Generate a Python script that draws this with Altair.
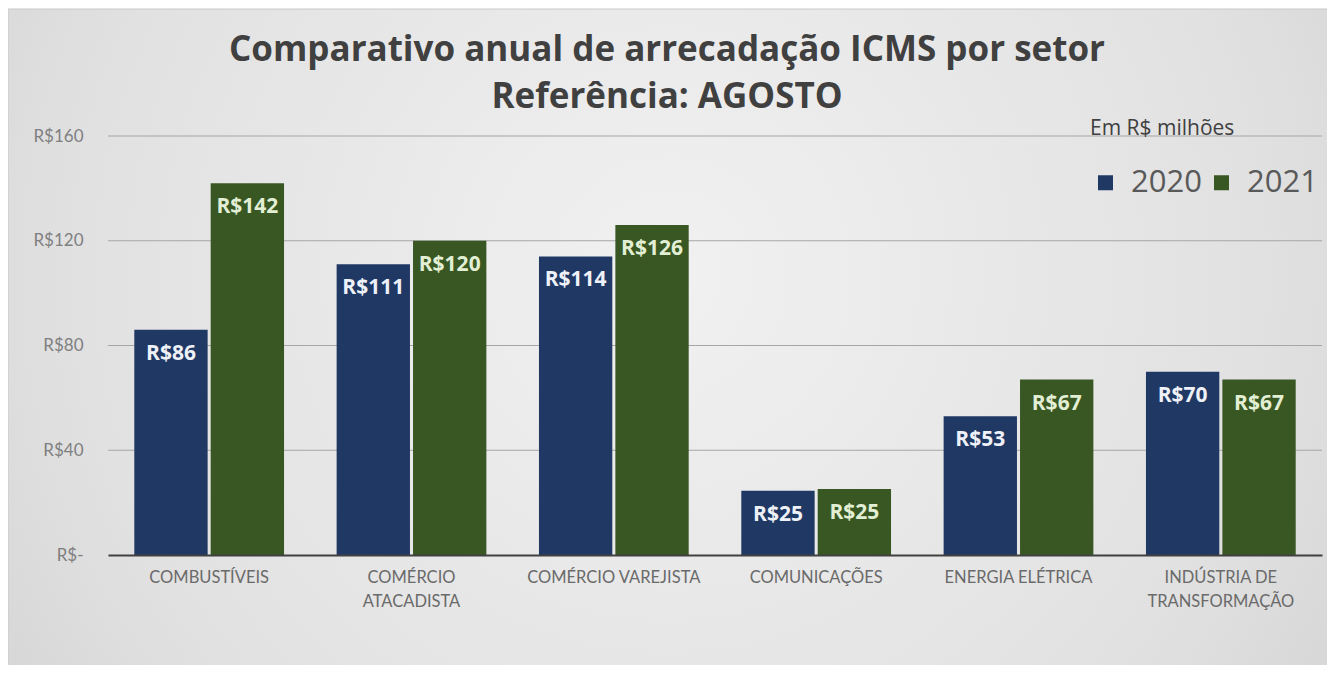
import altair as alt
import pandas as pd

categories = ["COMBUSTÍVEIS", "COMÉRCIO\nATACADISTA", "COMÉRCIO VAREJISTA",
              "COMUNICAÇÕES", "ENERGIA ELÉTRICA", "INDÚSTRIA DE\nTRANSFORMAÇÃO"]
years = ["2020", "2021"]
values_2020 = [86, 111, 114, 24.5, 53, 70]
values_2021 = [142, 120, 126, 25.2, 67, 67]
y_ticks = [0, 40, 80, 120, 160]

rows = []
for c, a, b in zip(categories, values_2020, values_2021):
    rows.append({"setor": c, "ano": years[0], "valor": a})
    rows.append({"setor": c, "ano": years[1], "valor": b})
df = pd.DataFrame(rows)
grid_df = pd.DataFrame({"valor": y_ticks[1:]})

W, H = 1214, 419
yscale = alt.Scale(domain=[0, 160], nice=False)

bg = alt.Chart(alt.Data(values=[{}])).mark_rect(
    color=alt.Gradient(gradient="radial", x1=0.5, y1=0.45, r1=0.0, x2=0.5, y2=0.45, r2=0.75,
                       stops=[alt.GradientStop(color="#f1f1f1", offset=0),
                              alt.GradientStop(color="#e1e1e1", offset=0.6),
                              alt.GradientStop(color="#cbcbcb", offset=1)]),
    stroke="#c8c8c8", strokeWidth=1
).encode(x=alt.value(-100), x2=alt.value(1222), y=alt.value(-127), y2=alt.value(536))

grid = alt.Chart(grid_df).mark_rule(color="#a6a6a6", strokeWidth=1.2).encode(
    y=alt.Y("valor:Q", scale=yscale), x=alt.value(0), x2=alt.value(W)
)

xenc = alt.X("setor:N", sort=categories,
             scale=alt.Scale(paddingInner=0.26, paddingOuter=0.13),
             axis=alt.Axis(title=None, labelAngle=0, labelExpr="split(datum.label, '\\n')",
                           labelFont="Lato", labelFontSize=16.5, labelColor="#6a6a6a",
                           labelPadding=14, labelLineHeight=24, ticks=False,
                           domainColor="#404040", domainWidth=2, grid=False, zindex=1))
xoff = alt.XOffset("ano:N", scale=alt.Scale(paddingInner=0.04))

bars = alt.Chart(df).mark_bar().encode(
    x=xenc,
    xOffset=xoff,
    y=alt.Y("valor:Q", scale=yscale,
            axis=alt.Axis(title=None, values=y_ticks,
                          labelExpr="datum.value == 0 ? 'R$-' : 'R$' + datum.value",
                          labelFont="Lato", labelFontSize=17, labelColor="#7f7f7f",
                          labelPadding=25, ticks=False, domain=False, grid=False, zindex=1)),
    color=alt.Color("ano:N", scale=alt.Scale(domain=years, range=["#203864", "#385723"]),
                    legend=alt.Legend(title="Em R$ milhões", orient="none", legendX=982, legendY=-18,
                                      direction="horizontal", titleFont="Open Sans",
                                      titleFontSize=21, titleFontWeight="normal", titleColor="#404040",
                                      titlePadding=28, labelFont="Open Sans", labelFontSize=31,
                                      labelColor="#595959", symbolType="square", symbolSize=225,
                                      symbolStrokeWidth=0, columnPadding=4, labelOffset=10,
                                      padding=0))
)

labels = alt.Chart(df).mark_text(
    font="Open Sans", fontWeight="bold", fontSize=21, baseline="middle", dy=24
).encode(
    x=alt.X("setor:N", sort=categories),
    xOffset=alt.XOffset("ano:N"),
    y="valor:Q",
    text=alt.Text("label:N"),
    color=alt.condition("datum.ano == '2020'", alt.value("#eef1f7"), alt.value("#e2efd4")),
).transform_calculate(label="'R$' + format(datum.valor, '.0f')")

chart = alt.layer(bg, grid, bars, labels).properties(
    width=W, height=H,
    autosize=alt.AutoSizeParams(type="none"),
    padding={"left": 100, "top": 128, "right": 5, "bottom": 110},
    title=alt.Title(["Comparativo anual de arrecadação ICMS por setor", "Referência: AGOSTO"],
                    font="Open Sans", fontSize=35, fontWeight="bold", color="#404040",
                    anchor="middle", dx=-48, dy=116, lineHeight=47, offset=10),
).configure_view(stroke=None).configure(background="white")

chart.save("out.html", embed_options={"renderer": "svg", "actions": False})
